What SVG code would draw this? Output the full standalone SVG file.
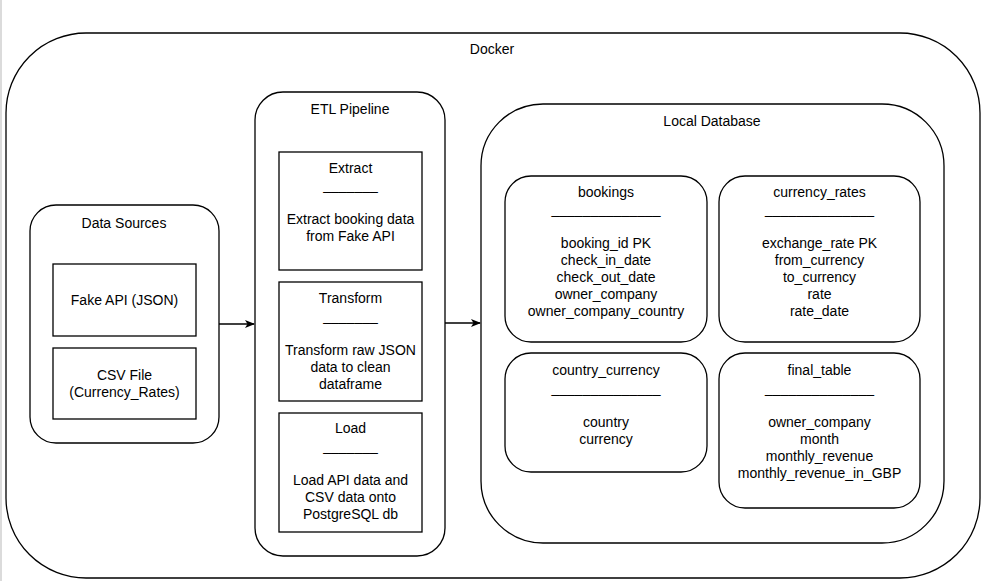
<svg xmlns="http://www.w3.org/2000/svg" width="983" height="587" viewBox="0 0 983 587">
<style>
.box{fill:#fff;stroke:#000;stroke-width:1.3}
.t{font-family:"Liberation Sans",Arial,sans-serif;font-size:14px;fill:#000;text-anchor:middle}
.edge{stroke:#000;stroke-width:1.3;fill:none}
</style>
<defs>
<marker id="arr" viewBox="0 0 10 10" refX="9" refY="5" markerWidth="10" markerHeight="10" markerUnits="userSpaceOnUse" orient="auto">
<path d="M0,1 L10,5 L0,9 L2.5,5 Z" fill="#000"/>
</marker>
</defs>
<rect width="983" height="587" fill="#fff"/>
<line x1="1" y1="0" x2="1" y2="581" stroke="#cfcfcf" stroke-width="1.5"/>
<g id="docker">
<rect class="box" x="6" y="33" width="974" height="545" rx="80" ry="80"/>
<text class="t" x="492" y="54">Docker</text>
</g>
<g id="data-sources">
<rect class="box" x="30" y="205" width="189" height="238" rx="26" ry="26"/>
<text class="t" x="124" y="228">Data Sources</text>
</g>
<g id="fake-api">
<rect class="box" x="53" y="264" width="143" height="72"/>
<text class="t" x="124.5" y="305">Fake API (JSON)</text>
</g>
<g id="csv-file">
<rect class="box" x="53" y="348" width="143" height="71"/>
<text class="t" x="124.5" y="380">CSV File</text>
<text class="t" x="124.5" y="397">(Currency_Rates)</text>
</g>
<g id="etl-pipeline">
<rect class="box" x="255" y="92" width="190" height="464" rx="28" ry="28"/>
<text class="t" x="350" y="114">ETL Pipeline</text>
</g>
<g id="extract">
<rect class="box" x="279" y="152" width="143" height="118"/>
<text class="t" x="350.5" y="173">Extract</text>
<text class="t" x="350.5" y="189.5">_______</text>
<text class="t" x="350.5" y="224">Extract booking data</text>
<text class="t" x="350.5" y="241">from Fake API</text>
</g>
<g id="transform">
<rect class="box" x="279" y="282" width="143" height="119"/>
<text class="t" x="350.5" y="303">Transform</text>
<text class="t" x="350.5" y="320.5">_______</text>
<text class="t" x="350.5" y="355">Transform raw JSON</text>
<text class="t" x="350.5" y="372">data to clean</text>
<text class="t" x="350.5" y="389">dataframe</text>
</g>
<g id="load">
<rect class="box" x="279" y="413" width="143" height="119"/>
<text class="t" x="350.5" y="433">Load</text>
<text class="t" x="350.5" y="450.5">_______</text>
<text class="t" x="350.5" y="485">Load API data and</text>
<text class="t" x="350.5" y="502">CSV data onto</text>
<text class="t" x="350.5" y="519">PostgreSQL db</text>
</g>
<g id="local-database">
<rect class="box" x="481" y="104" width="463" height="439" rx="62" ry="62"/>
<text class="t" x="712" y="126">Local Database</text>
</g>
<g id="bookings">
<rect class="box" x="505" y="176" width="202" height="166" rx="26" ry="26"/>
<text class="t" x="606" y="197">bookings</text>
<text class="t" x="606" y="214">______________</text>
<text class="t" x="606" y="248">booking_id PK</text>
<text class="t" x="606" y="265">check_in_date</text>
<text class="t" x="606" y="282">check_out_date</text>
<text class="t" x="606" y="299">owner_company</text>
<text class="t" x="606" y="316">owner_company_country</text>
</g>
<g id="currency-rates">
<rect class="box" x="719" y="176" width="201" height="166" rx="26" ry="26"/>
<text class="t" x="819.5" y="197">currency_rates</text>
<text class="t" x="819.5" y="214">______________</text>
<text class="t" x="819.5" y="248">exchange_rate PK</text>
<text class="t" x="819.5" y="265">from_currency</text>
<text class="t" x="819.5" y="282">to_currency</text>
<text class="t" x="819.5" y="299">rate</text>
<text class="t" x="819.5" y="316">rate_date</text>
</g>
<g id="country-currency">
<rect class="box" x="505" y="353" width="202" height="119" rx="26" ry="26"/>
<text class="t" x="606" y="375">country_currency</text>
<text class="t" x="606" y="393">______________</text>
<text class="t" x="606" y="427">country</text>
<text class="t" x="606" y="444">currency</text>
</g>
<g id="final-table">
<rect class="box" x="719" y="353" width="201" height="155" rx="26" ry="26"/>
<text class="t" x="819.5" y="375">final_table</text>
<text class="t" x="819.5" y="393">______________</text>
<text class="t" x="819.5" y="427">owner_company</text>
<text class="t" x="819.5" y="444">month</text>
<text class="t" x="819.5" y="461">monthly_revenue</text>
<text class="t" x="819.5" y="478">monthly_revenue_in_GBP</text>
</g>
<g id="connectors">
<path class="edge" d="M219,324 L254,324" marker-end="url(#arr)"/>
<path class="edge" d="M445,323 L480,323" marker-end="url(#arr)"/>
</g>
</svg>
